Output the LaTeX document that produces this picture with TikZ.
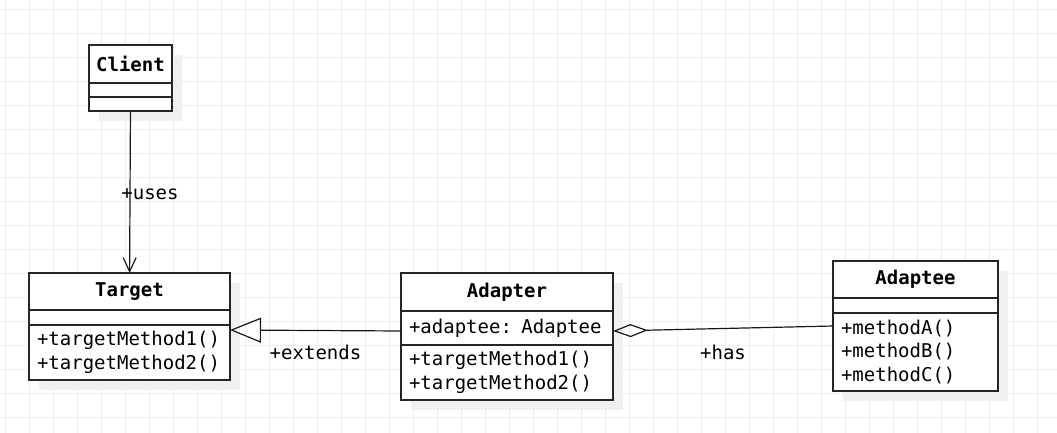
\documentclass[tikz,border=0pt]{standalone}
\usepackage{fontspec}
\setmonofont{DejaVu Sans Mono}
\usetikzlibrary{arrows.meta,positioning,shadows}

\begin{document}
\begin{tikzpicture}[x=1pt,y=-1pt,line width=1.2pt,
    >={Straight Barb[length=14pt,width=13pt]},
    font=\ttfamily\fontsize{19}{23.5}\selectfont]
  \tikzstyle{gridline}=[draw=black!7,line width=0.8pt]
  \tikzstyle{classhead}=[draw=black!85,fill=white,line width=1.2pt,
    font=\ttfamily\bfseries\fontsize{19}{23.5}\selectfont,
    inner sep=0pt,outer sep=0pt,
    general shadow={fill=black!6,shadow xshift=10pt,shadow yshift=-10pt}]
  \tikzstyle{classpart}=[classhead,font=\ttfamily\fontsize{19}{23.5}\selectfont,
    align=left,inner xsep=8pt,inner ysep=0pt]
  \tikzstyle{link}=[draw=black!90,line width=1.2pt]

  \useasboundingbox (0,0) rectangle (1057,433);
  \foreach \gx in {5,29,...,1061} \draw[gridline] (\gx,0) -- (\gx,433);
  \foreach \gy in {9,33,...,441} \draw[gridline] (0,\gy) -- (1057,\gy);

  % classes
  \node[classhead,minimum width=83pt,minimum height=38pt] (client) at (130.5,64) {Client};
  \node[classpart,text width=67pt,minimum height=14pt,below=0pt of client] (client-a) {};
  \node[classpart,text width=67pt,minimum height=14pt,below=0pt of client-a] (client-m) {};

  \node[classhead,minimum width=201pt,minimum height=37pt] (target) at (129.5,291.5) {Target};
  \node[classpart,text width=185pt,minimum height=15pt,below=0pt of target] (target-a) {};
  \node[classpart,text width=185pt,minimum height=55pt,below=0pt of target-a] (target-m)
    {+targetMethod1()\\+targetMethod2()};

  \node[classhead,minimum width=212pt,minimum height=38pt] (adapter) at (507,292) {Adapter};
  \node[classpart,text width=196pt,minimum height=34pt,below=0pt of adapter] (adapter-a)
    {+adaptee: Adaptee};
  \node[classpart,text width=196pt,minimum height=55pt,below=0pt of adapter-a] (adapter-m)
    {+targetMethod1()\\+targetMethod2()};

  \node[classhead,minimum width=165pt,minimum height=37pt] (adaptee) at (915.5,279.5) {Adaptee};
  \node[classpart,text width=149pt,minimum height=15pt,below=0pt of adaptee] (adaptee-a) {};
  \node[classpart,text width=149pt,minimum height=78pt,below=0pt of adaptee-a] (adaptee-m)
    {+methodA()\\+methodB()\\+methodC()};

  % relations
  \path (client-m) edge[link,->] node[xshift=20pt,yshift=-2pt] {+uses} (target);
  \path ([yshift=-3pt]adapter-a.west)
        edge[link,-{Triangle[open,length=31pt,width=25pt]}] node[yshift=-22pt] {+extends}
        ([yshift=-5pt]target-m.north east);
  \path ([yshift=-3pt]adapter-a.east)
        edge[link,{Diamond[open,length=35pt,width=13pt]}-] node[yshift=-24pt] {+has}
        ([yshift=-13pt]adaptee-m.north west);
\end{tikzpicture}
\end{document}
